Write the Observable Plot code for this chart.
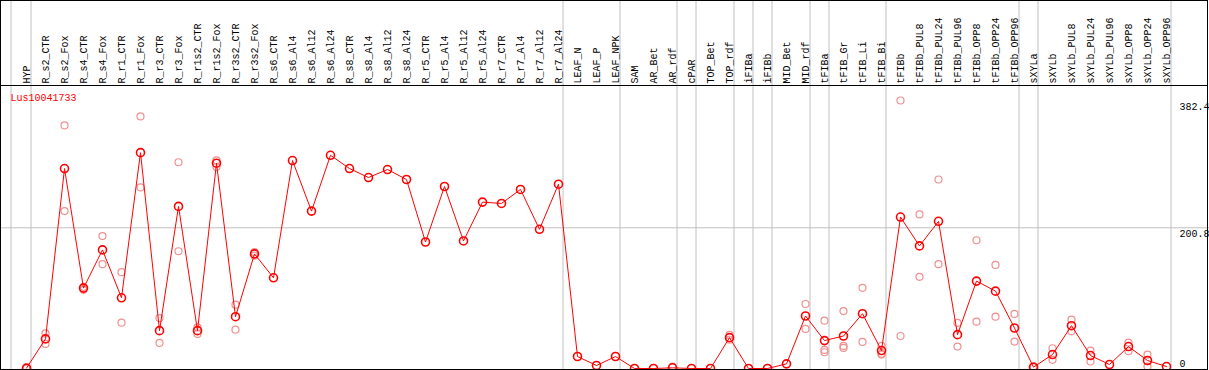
<!DOCTYPE html>
<html>
<head>
<meta charset="utf-8">
<script src="https://cdn.jsdelivr.net/npm/d3@7"></script>
<script src="https://cdn.jsdelivr.net/npm/@observablehq/plot@0.6"></script>
<style>
  html, body { margin: 0; padding: 0; background: #fff; }
  #chart svg { display: block; }
</style>
</head>
<body>
<div id="chart"></div>
<script>
const geneName = "Lus10041733";

const categories = [
  "HYP","R_s2_CTR","R_s2_Fox","R_s4_CTR","R_s4_Fox","R_r1_CTR","R_r1_Fox","R_r3_CTR","R_r3_Fox",
  "R_r1s2_CTR","R_r1s2_Fox","R_r3s2_CTR","R_r3s2_Fox","R_s6_CTR","R_s6_Al4","R_s6_Al12","R_s6_Al24",
  "R_s8_CTR","R_s8_Al4","R_s8_Al12","R_s8_Al24","R_r5_CTR","R_r5_Al4","R_r5_Al12","R_r5_Al24",
  "R_r7_CTR","R_r7_Al4","R_r7_Al12","R_r7_Al24","LEAF_N","LEAF_P","LEAF_NPK","SAM","AR_Bet","AR_rdf",
  "cPAR","TOP_Bet","TOP_rdf","iFIBa","iFIBb","MID_Bet","MID_rdf","tFIBa","tFIB_Gr","tFIB_Li","tFIB_Bi",
  "tFIBb","tFIBb_PUL8","tFIBb_PUL24","tFIBb_PUL96","tFIBb_OPP8","tFIBb_OPP24","tFIBb_OPP96",
  "sXYLa","sXYLb","sXYLb_PUL8","sXYLb_PUL24","sXYLb_PUL96","sXYLb_OPP8","sXYLb_OPP24","sXYLb_OPP96"
];

const means = [
  0.5, 42.2, 285.3, 114.7, 169.2, 100.9, 308, 54, 231.3,
  54, 292.9, 73.9, 163.5, 129.4, 296.7, 224.6, 304.2,
  285.3, 272.5, 283.9, 269.7, 180.5, 259.7, 182, 237.4,
  235.5, 255.5, 198.6, 263, 17.1, 4.3, 17.1, 0, 0, 1,
  0, 0, 44, 0, 0, 6.6, 74.9, 39.8, 46.4, 78.2, 25.6,
  216.1, 174.9, 210, 48.3, 124.7, 110.4, 57.8,
  1.9, 19.9, 61.1, 18.5, 5.7, 31.3, 11.4, 2.8
];

const replicates = [
  [0], [50, 35], [346.9, 224.6], [112.3, 116.6], [189, 148.8], [137.4, 65.4], [359.7, 258.3], [72, 36.5], [294.3, 167.3],
  [58.7, 49.3], [297, 287.6], [91, 55.4], [166, 161], [], [], [], [],
  [], [], [], [], [], [], [], [],
  [], [], [], [], [], [], [], [], [], [2.8],
  [], [], [47.9, 41], [], [], [], [92, 56.4], [68.2, 26.5, 23.2], [82, 32.2, 29.4], [115.1, 37.9], [32.2, 20.9, 19.9],
  [382.4, 46.4], [219.9, 130.8], [269.7, 148.8], [65, 31.3], [183, 66.8], [147.8, 73.9], [77.8, 38.4],
  [1.9], [28.9, 12.4], [69.7, 53], [25.6, 10], [], [37, 24.6], [19.9, 2.8], []
];

const separators = ["HYP","R_r7_Al24","LEAF_NPK","AR_rdf","cPAR","TOP_rdf","iFIBa","iFIBb","MID_rdf","tFIBa","tFIB_Bi","tFIBb_OPP96","sXYLa","sXYLb_OPP96"];
const yTicksTop = [382.4, 200.8];
const yTicksBottom = [0];

const meanData = categories.map((c, i) => ({cat: c, value: means[i]}));
const repData = categories.flatMap((c, i) => replicates[i].map(v => ({cat: c, value: v})));

const W = 1209, H = 370;
const font = "'Liberation Mono', 'DejaVu Sans Mono', monospace";

const chart = Plot.plot({
  width: W,
  height: H,
  margin: 0,
  x: {type: "point", domain: categories, range: [26, 1166], padding: 0, axis: null},
  y: {domain: [0, 382.4], range: [368, 100], axis: null},
  style: {fontFamily: font, fontSize: "10px", background: "#fff", color: "#000"},
  marks: [
    Plot.ruleX(separators, {x: d => d, dx: 4.5, stroke: "#c0c0c0", strokeWidth: 1}),
    Plot.ruleX(["HYP"], {x: d => d, dx: -15.5, stroke: "#c0c0c0", strokeWidth: 1}),
    Plot.ruleY([200.8], {stroke: "#c0c0c0", strokeWidth: 1}),
    Plot.dot(repData, {x: "cat", y: "value", r: 3.5, stroke: "#f09090", strokeWidth: 1.2, fill: "none"}),
    Plot.line(meanData, {x: "cat", y: "value", stroke: "#ff0000", strokeWidth: 1}),
    Plot.dot(meanData, {x: "cat", y: "value", r: 4, stroke: "#ff0000", strokeWidth: 1.6, fill: "none"}),
    Plot.text(categories, {x: d => d, frameAnchor: "top", dy: 83, rotate: -90, textAnchor: "start", lineAnchor: "middle", fill: "#000"}),
    Plot.text(yTicksTop, {x: () => categories[categories.length - 1], y: d => d, text: d => String(d), dx: 13, dy: 2, textAnchor: "start", lineAnchor: "top", fill: "#000"}),
    Plot.text(yTicksBottom, {x: () => categories[categories.length - 1], y: d => d, text: d => String(d), dx: 13, dy: -2, textAnchor: "start", lineAnchor: "bottom", fill: "#000"}),
    Plot.text([geneName], {frameAnchor: "top-left", dx: 10, dy: 97.5, textAnchor: "start", lineAnchor: "middle", fill: "#ff0000"})
  ]
});

// decorative frame and header divider
const svg = d3.select(chart);
svg.append("rect").attr("x", 0.5).attr("y", 0.5).attr("width", 1207).attr("height", 369)
  .attr("fill", "none").attr("stroke", "#000").attr("stroke-width", 1);
svg.append("line").attr("x1", 0).attr("x2", 1208).attr("y1", 85.5).attr("y2", 85.5)
  .attr("stroke", "#000").attr("stroke-width", 1);

document.getElementById("chart").appendChild(chart);
</script>
</body>
</html>
